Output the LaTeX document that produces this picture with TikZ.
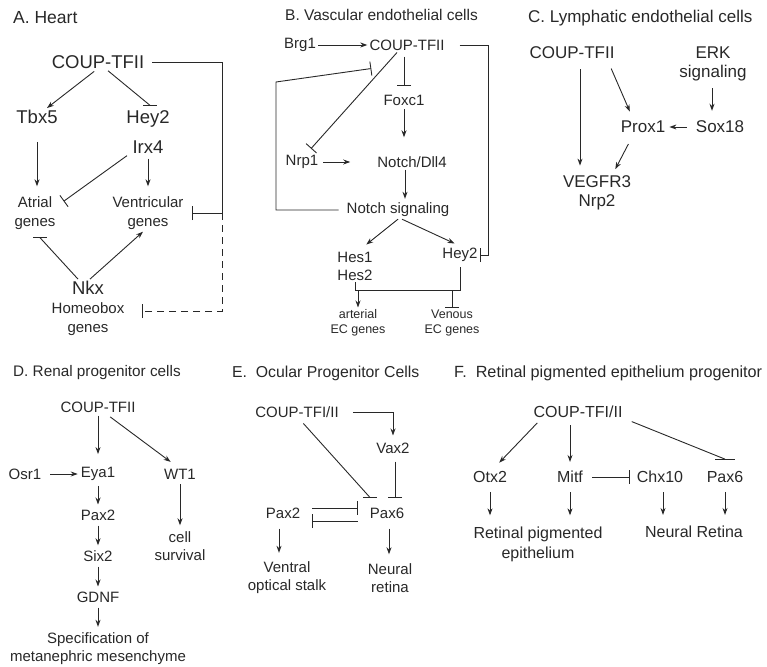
\documentclass[tikz,border=0pt]{standalone}
\usepackage{fontspec}
\setmainfont{Liberation Sans}
\usetikzlibrary{arrows.meta}
\definecolor{ink}{RGB}{40,40,40}

\begin{document}
\begin{tikzpicture}[x=1pt, y=-1pt]
    % --- SETUP ---
    \tikzset{
        gene_style/.style={inner sep=2pt, text=ink, align=center},
        title_style/.style={inner sep=0pt, anchor=west, text=ink},
        big_a/.style={gene_style, font=\fontsize{18.5}{30}\selectfont},
        small_a/.style={gene_style, font=\fontsize{15}{19}\selectfont},
        txt_b/.style={gene_style, font=\fontsize{15}{18}\selectfont},
        small_b/.style={gene_style, font=\fontsize{12.5}{15}\selectfont},
        txt_c/.style={gene_style, font=\fontsize{17}{19}\selectfont},
        txt_d/.style={gene_style, font=\fontsize{15}{18}\selectfont},
        txt_f/.style={gene_style, font=\fontsize{16}{20}\selectfont},
        plain_edge/.style={draw=ink, line width=0.9pt},
        act_edge/.style={plain_edge, -{Stealth[length=7pt, width=5pt]}},
        inh_edge/.style={plain_edge, -{Bar[width=14pt, line width=0.9pt]}}
    }
    \useasboundingbox (0,0) rectangle (767,666);

    % ===================================================
    % A. HEART
    % ===================================================
    \begin{scope}
        \node[title_style, font=\fontsize{17.5}{20}\selectfont] (titleA) at (13,18) {A. Heart};

        \node[big_a] (coupA) at (98,62) {COUP-TFII};
        \node[big_a] (tbx5) at (37,117) {Tbx5};
        \node[big_a] (hey2A) at (148,132) {Hey2\\Irx4};
        \node[small_a] (atrial) at (35,213) {Atrial\\genes};
        \node[small_a] (ventr) at (148,213) {Ventricular\\genes};
        \node[big_a] (nkx) at (88,288) {Nkx};
        \node[small_a] (hbox) at (88,319) {Homeobox\\genes};
        \coordinate (railA) at (222,213);

        \draw[act_edge, shorten <=1pt] ([xshift=-3pt]coupA.south) -- ([xshift=10pt]tbx5.north);
        \draw[plain_edge] ([xshift=10pt]coupA.south) -- ([xshift=2pt, yshift=3pt]hey2A.north) coordinate (barA1);
        \draw[plain_edge] ([xshift=-7pt]barA1) -- ([xshift=7pt]barA1);
        \draw[act_edge, shorten <=16pt, shorten >=8pt] (tbx5.south) -- (tbx5.south |- atrial.north);
        \draw[act_edge, shorten <=3pt, shorten >=8pt] (hey2A.south) -- (hey2A.south |- ventr.north);
        \draw[inh_edge] ([xshift=-21pt]hey2A.south) -- ([xshift=6pt, yshift=-7pt]atrial.north east);

        \draw[plain_edge] ([xshift=-10pt]nkx.north) -- ([xshift=5pt, yshift=-6pt]atrial.south) coordinate (barA2);
        \draw[plain_edge] ([xshift=-7pt]barA2) -- ([xshift=7pt]barA2);
        \draw[act_edge] ([xshift=2pt]nkx.north) -- ([xshift=-5pt]ventr.south);

        % feedback rail
        \draw[inh_edge, shorten <=6pt] (coupA.east) -| (railA) -- ([xshift=6pt]ventr.east);
        \draw[inh_edge, dash pattern=on 7pt off 5pt] (railA) |- ([xshift=16pt, yshift=8pt]hbox.east);
    \end{scope}

    % ===================================================
    % B. VASCULAR ENDOTHELIAL CELLS
    % ===================================================
    \begin{scope}
        \node[title_style, font=\fontsize{15.5}{18}\selectfont] (titleB) at (285,15) {B. Vascular endothelial cells};

        \node[txt_b] (brg1) at (300,45) {Brg1};
        \node[txt_b] (coupB) at (407,45) {COUP-TFII};
        \node[txt_b] (foxc1) at (404,100) {Foxc1};
        \node[txt_b] (nrp1) at (302,162) {Nrp1};
        \node[txt_b] (dll4) at (412,162) {Notch/Dll4};
        \node[txt_b] (notchB) at (398,210) {Notch signaling};
        \node[txt_b] (hes) at (355,266) {Hes1\\Hes2};
        \node[txt_b] (hey2B) at (460,255) {Hey2};
        \node[small_b] (arterial) at (358,323) {arterial\\EC genes};
        \node[small_b] (venous) at (452,323) {Venous\\EC genes};
        \coordinate (railB) at (488,255);
        \coordinate (loopB) at (276,82);
        \coordinate (forkB) at (406,290);

        \draw[act_edge] (brg1) -- (coupB);
        \draw[inh_edge, shorten <=4pt, shorten >=7pt] ([xshift=-3pt]coupB.south) -- (foxc1.north);
        \draw[act_edge, shorten <=2pt, shorten >=17pt] (foxc1.south) -- (foxc1.south |- dll4.north);
        \draw[act_edge, shorten <=3pt, shorten >=25pt] (nrp1) -- (dll4);
        \draw[inh_edge, shorten >=6pt] ([xshift=-10pt]coupB.south) -- ([xshift=5pt]nrp1.north);
        \draw[act_edge, shorten >=2pt] ([xshift=-7pt]dll4.south) -- ([xshift=7pt]notchB.north);
        \draw[act_edge, shorten >=8pt] (notchB.south) -- ([xshift=5pt]hes.north);
        \draw[act_edge, shorten >=6pt] ([xshift=4pt]notchB.south) -- (hey2B.north);

        % loops
        \draw[inh_edge, shorten <=13pt] (coupB.east) -| (railB) -- (hey2B.east);
        \draw[inh_edge, shorten <=6pt] (notchB.west) -| (loopB) -- ([xshift=4pt, yshift=-16pt]coupB.south west);

        % targets
        \draw[plain_edge, shorten >=3pt] (hes.south) -- (hes.south |- forkB) -- (hey2B.south |- forkB) -- (hey2B.south);
        \draw[act_edge] (arterial.north |- forkB) -- (arterial.north);
        \draw[inh_edge] (venous.north |- forkB) -- (venous.north);
    \end{scope}

    % ===================================================
    % C. LYMPHATIC ENDOTHELIAL CELLS
    % ===================================================
    \begin{scope}
        \node[title_style, font=\fontsize{17}{20}\selectfont] (titleC) at (528,18) {C. Lymphatic endothelial cells};

        \node[txt_c] (coupC) at (572,53) {COUP-TFII};
        \node[txt_c] (erk) at (713,64) {ERK\\signaling};
        \node[txt_c] (sox18) at (720,127) {Sox18};
        \node[txt_c] (prox1) at (643,127) {Prox1};
        \node[txt_c] (vegfr) at (597,193) {VEGFR3\\Nrp2};

        \draw[act_edge, shorten <=5pt, shorten >=8pt] ([xshift=-1pt]erk.south) -- ([xshift=-1pt]erk.south |- sox18.north);
        \draw[act_edge, shorten <=7pt, shorten >=2pt] (sox18) -- (prox1);
        \draw[act_edge, shorten <=8pt, shorten >=8pt] ([xshift=36pt]coupC.south) -- ([xshift=-10pt]prox1.north);
        \draw[act_edge, shorten <=8pt, shorten >=8pt] ([xshift=8pt]coupC.south) -- ([xshift=-17pt]vegfr.north);
        \draw[act_edge, shorten <=10pt, shorten >=5pt] ([xshift=-10pt]prox1.south) -- ([xshift=16pt]vegfr.north);
    \end{scope}

    % ===================================================
    % D. RENAL PROGENITOR CELLS
    % ===================================================
    \begin{scope}
        \node[title_style, font=\fontsize{15.3}{18}\selectfont] (titleD) at (13,373) {D. Renal progenitor cells};

        \node[txt_d] (coupD) at (98,407) {COUP-TFII};
        \node[txt_d] (osr1) at (25,474) {Osr1};
        \node[txt_d] (eya1) at (98,474) {Eya1};
        \node[txt_d] (wt1) at (180,474) {WT1};
        \node[txt_d] (pax2D) at (98,515) {Pax2};
        \node[txt_d] (six2) at (98,556) {Six2};
        \node[txt_d] (gdnf) at (98,597) {GDNF};
        \node[txt_d] (spec) at (98,649) {Specification of\\metanephric mesenchyme};
        \node[txt_d] (cell) at (180,546) {cell\\survival};

        \draw[act_edge, shorten <=1pt, shorten >=11pt] (coupD.south) -- (coupD.south |- eya1.north);
        \draw[act_edge, shorten <=4pt, shorten >=8pt] ([xshift=9pt]coupD.south) -- ([xshift=-3pt]wt1.north);
        \draw[act_edge, shorten <=7pt, shorten >=1pt] (osr1) -- (eya1);
        \draw[act_edge, shorten <=3pt, shorten >=3pt] (eya1) -- (pax2D);
        \draw[act_edge, shorten <=3pt, shorten >=3pt] (pax2D) -- (six2);
        \draw[act_edge, shorten <=3pt, shorten >=3pt] (six2) -- (gdnf);
        \draw[act_edge, shorten <=3pt, shorten >=4pt] (gdnf) -- (spec);
        \draw[act_edge, shorten <=3pt, shorten >=4pt] (wt1) -- (cell);
    \end{scope}

    % ===================================================
    % E. OCULAR PROGENITOR CELLS
    % ===================================================
    \begin{scope}
        \node[title_style, font=\fontsize{15.8}{18}\selectfont] (titleE) at (232,373) {E.\ \ Ocular Progenitor Cells};

        \node[txt_d] (coupE) at (297,412) {COUP-TFI/II};
        \node[txt_d] (vax2) at (393,448) {Vax2};
        \node[txt_d] (pax6E) at (387,513) {Pax6};
        \node[txt_d] (pax2E) at (283,513) {Pax2};
        \node[txt_d] (ventral) at (287,578) {Ventral\\optical stalk};
        \node[txt_d] (neural) at (390,578) {Neural\\retina};

        \draw[act_edge, shorten <=12pt, shorten >=5pt] (coupE.east) -| (vax2.north);
        \draw[inh_edge, shorten <=6pt, shorten >=8pt] ([xshift=2pt]vax2.south) -- ([xshift=8pt]pax6E.north);
        \draw[plain_edge, shorten <=5pt] ([xshift=3pt]coupE.south) -- ([xshift=-17pt, yshift=8pt]pax6E.north) coordinate (barE);
        \draw[plain_edge] ([xshift=-7pt]barE) -- ([xshift=7pt]barE);

        % mutual repression
        \draw[inh_edge, shorten <=10pt, shorten >=10pt] ([yshift=5pt]pax2E.east) -- ([yshift=5pt]pax6E.west);
        \draw[inh_edge, shorten <=10pt, shorten >=10pt] ([yshift=-8pt]pax6E.west) -- ([yshift=-8pt]pax2E.east);

        \draw[act_edge, shorten <=8pt, shorten >=7pt] ([xshift=-4pt]pax2E.south) -- ([xshift=-4pt]pax2E.south |- ventral.north);
        \draw[act_edge, shorten <=8pt, shorten >=7pt] ([xshift=2pt]pax6E.south) -- ([xshift=2pt]pax6E.south |- neural.north);
    \end{scope}

    % ===================================================
    % F. RETINAL PIGMENTED EPITHELIUM PROGENITOR
    % ===================================================
    \begin{scope}
        \node[title_style, font=\fontsize{16.2}{18}\selectfont] (titleF) at (454,373) {F.\ \ Retinal pigmented epithelium progenitor};

        \node[txt_f] (coupF) at (578,412) {COUP-TFI/II};
        \node[txt_f] (otx2) at (490,477) {Otx2};
        \node[txt_f] (mitf) at (570,477) {Mitf};
        \node[txt_f] (chx10) at (660,477) {Chx10};
        \node[txt_f] (pax6F) at (725,477) {Pax6};
        \node[txt_f] (rpe) at (538,544) {Retinal pigmented\\epithelium};
        \node[txt_f] (neuralF) at (694,532) {Neural Retina};

        \draw[act_edge, shorten <=4pt, shorten >=9pt] ([xshift=-38pt]coupF.south) -- ([xshift=3pt]otx2.north);
        \draw[act_edge, shorten <=5pt, shorten >=7pt] ([xshift=-8pt]coupF.south) -- (mitf.north);
        \draw[plain_edge, shorten <=4pt] ([xshift=50pt]coupF.south) -- ([yshift=10pt]pax6F.north) coordinate (barF);
        \draw[plain_edge] ([xshift=-10pt]barF) -- ([xshift=10pt]barF);
        \draw[inh_edge, shorten <=7pt] (mitf.east) -- ([xshift=-5pt]chx10.west);

        \draw[act_edge, shorten <=7pt, shorten >=9pt] (otx2.south) -- (otx2.south |- rpe.north);
        \draw[act_edge, shorten <=7pt, shorten >=9pt] (mitf.south) -- (mitf.south |- rpe.north);
        \draw[act_edge, shorten <=7pt, shorten >=9pt] ([xshift=3pt]chx10.south) -- ([xshift=3pt]chx10.south |- neuralF.north);
        \draw[act_edge, shorten <=7pt, shorten >=9pt] (pax6F.south) -- (pax6F.south |- neuralF.north);
    \end{scope}

\end{tikzpicture}
\end{document}
